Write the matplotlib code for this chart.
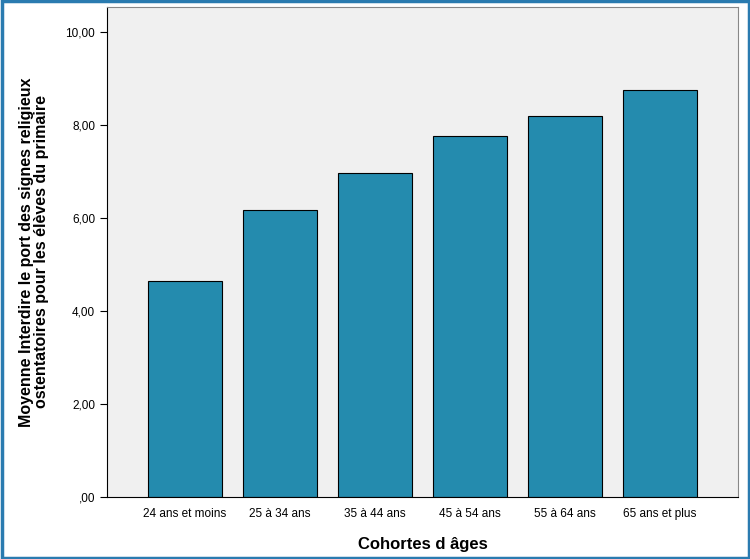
import matplotlib
matplotlib.use("Agg")
import matplotlib.pyplot as plt
from matplotlib.patches import Rectangle

categories = ["24 ans et moins", "25 à 34 ans", "35 à 44 ans", "45 à 54 ans", "55 à 64 ans", "65 ans et plus"]
values = [4.64, 6.17, 6.98, 7.76, 8.20, 8.76]
yticks = [0, 2, 4, 6, 8, 10]
ylabels = [",00", "2,00", "4,00", "6,00", "8,00", "10,00"]

fig = plt.figure(figsize=(7.5, 5.59), dpi=100)
fig.patches.append(Rectangle((0.002, 0.002), 0.996, 0.996, transform=fig.transFigure,
                             fill=False, edgecolor="#2A7BB0", linewidth=2.5))
ax = fig.add_axes([107/750, 1-497/559, 631/750, 490/559])
ax.set_facecolor("#F0F0F0")
x = range(len(categories))
ax.bar(x, values, width=0.77, color="#248BAE", edgecolor="black", linewidth=0.8)
ax.set_xlim(-0.82, 5.82)
ax.set_ylim(0, 10.54)
ax.set_yticks(yticks)
ax.set_yticklabels(ylabels, fontsize=8.5, family="Liberation Sans")
ax.set_xticks(list(x))
ax.set_xticklabels(categories, fontsize=8.5, family="Liberation Sans")
ax.tick_params(axis="x", length=0, pad=8)
ax.tick_params(axis="y", length=5)
ax.spines["top"].set_color("#888888")
ax.spines["right"].set_color("#888888")
ax.set_xlabel("Cohortes d âges", fontsize=12, fontweight="bold", family="Liberation Sans", labelpad=12)
ax.set_ylabel("Moyenne Interdire le port des signes religieux\nostentatoires pour les élèves du primaire",
              fontsize=11.5, fontweight="bold", family="Liberation Sans", labelpad=12, linespacing=1.0)
fig.savefig("out.png", dpi=100)
